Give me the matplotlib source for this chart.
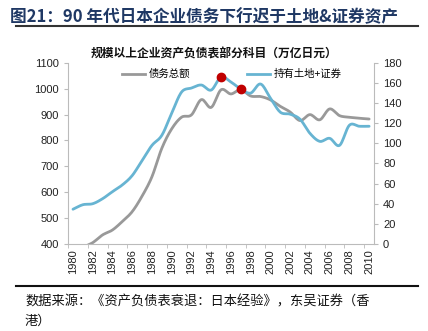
import numpy as np
import matplotlib
matplotlib.use("Agg")
import matplotlib.pyplot as plt
from matplotlib.lines import Line2D

plt.rcParams['font.family'] = ['Noto Sans CJK SC', 'DejaVu Sans']

years = list(range(1980, 2011))
# 债务总额, left axis
debt = [360, 386, 405, 435, 454, 487, 525, 585, 660, 770,
        845, 890, 899, 958, 928, 996, 980, 997, 972, 970,
        957, 932, 910, 877, 900, 880, 922, 896, 890, 886, 883]
# 持有土地+证券, right axis
land_sec = [34.5, 39, 40, 45, 52, 58.7, 68, 83, 98, 108,
            130, 151, 155, 158, 153, 166, 161, 154, 150, 159,
            145, 131, 129, 124, 110, 102, 105, 98, 118, 117, 117]
peak_years = [1995, 1997]

title = "图21：90 年代日本企业债务下行迟于土地&证券资产"
subtitle = "规模以上企业资产负债表部分科目（万亿日元）"
source1 = "数据来源：《资产负债表衰退：日本经验》，东吴证券（香"
source2 = "港）"

gray = "#999999"
blue = "#67b4d2"


def smooth(x, y, n=12):
    # catmull-rom through the points, like excel smoothed lines
    x = np.asarray(x, float)
    y = np.asarray(y, float)
    px = np.concatenate([[2 * x[0] - x[1]], x, [2 * x[-1] - x[-2]]])
    py = np.concatenate([[2 * y[0] - y[1]], y, [2 * y[-1] - y[-2]]])
    xs, ys = [], []
    t = np.linspace(0, 1, n, endpoint=False)
    for i in range(1, len(px) - 2):
        for arr, out in ((px, xs), (py, ys)):
            p0, p1, p2, p3 = arr[i - 1], arr[i], arr[i + 1], arr[i + 2]
            out.extend(0.5 * ((2 * p1) + (-p0 + p2) * t
                              + (2 * p0 - 5 * p1 + 4 * p2 - p3) * t ** 2
                              + (-p0 + 3 * p1 - 3 * p2 + p3) * t ** 3))
    xs.append(x[-1])
    ys.append(y[-1])
    return np.array(xs), np.array(ys)


fig = plt.figure(figsize=(4.28, 3.31), dpi=100)
ax = fig.add_axes([0.159, 0.263, 0.715, 0.547])
ax2 = ax.twinx()

idx = np.arange(len(years))
sx, sy = smooth(idx, debt)
ax.plot(sx, sy, color=gray, lw=2.0, solid_capstyle='round')
bx, by = smooth(idx, land_sec)
ax2.plot(bx, by, color=blue, lw=2.0, solid_capstyle='round')
for py in peak_years:
    k = years.index(py)
    ax2.plot(k, land_sec[k], 'o', color="#c00000", ms=6, zorder=5)

ax.set_xlim(-0.5, len(years) - 0.5)
ax.set_ylim(400, 1100)
ax.set_yticks(range(400, 1101, 100))
ax2.set_ylim(0, 180)
ax2.set_yticks(range(0, 181, 20))

ax.set_xticks(idx[::2])
ax.set_xticklabels([str(y) for y in years[::2]], rotation=90)
ax.set_xticks(np.arange(-0.5, len(years), 2), minor=True)
ax.tick_params(axis='x', which='major', length=0, pad=4)
ax.tick_params(axis='x', which='minor', length=3, color="#bbbbbb")

for a in (ax, ax2):
    for s in a.spines.values():
        s.set_color("#bbbbbb")
    a.spines['top'].set_visible(False)
    a.tick_params(axis='y', length=3, color="#bbbbbb")
    a.tick_params(labelsize=8, labelcolor="#222222")
    for lab in a.get_xticklabels() + a.get_yticklabels():
        lab.set_family(['Liberation Sans', 'DejaVu Sans'])
ax.spines['right'].set_visible(False)
ax2.spines['left'].set_visible(False)
ax2.spines['bottom'].set_visible(False)

handles = [Line2D([], [], color=gray, lw=2.0), Line2D([], [], color=blue, lw=2.0)]
ax.legend(handles, ["债务总额", "持有土地+证券"], loc='upper center',
          bbox_to_anchor=(0.535, 1.0), ncol=2, frameon=False, fontsize=7.5,
          handlelength=2.2, handletextpad=0.3, columnspacing=5.5,
          borderaxespad=0.2)

fig.text(0.5, 1 - 54 / 331, subtitle, ha='center', va='center',
         fontsize=8.5, fontweight='bold', color="#111111")
fig.text(10 / 428, 1 - 17 / 331, title, ha='left', va='center',
         fontsize=12, fontweight='bold', color="#1f3864")
fig.add_artist(Line2D([16 / 428, 418 / 428], [1 - 26 / 331] * 2,
                      color="#333333", lw=1.5))
fig.add_artist(Line2D([16 / 428, 418 / 428], [1 - 286 / 331] * 2,
                      color="#111111", lw=1.5))
fig.text(25 / 428, 1 - 302 / 331, source1, ha='left', va='center',
         fontsize=9.5, color="#111111")
fig.text(25 / 428, 1 - 321 / 331, source2, ha='left', va='center',
         fontsize=9.5, color="#111111")

fig.savefig("out.png", dpi=100)
